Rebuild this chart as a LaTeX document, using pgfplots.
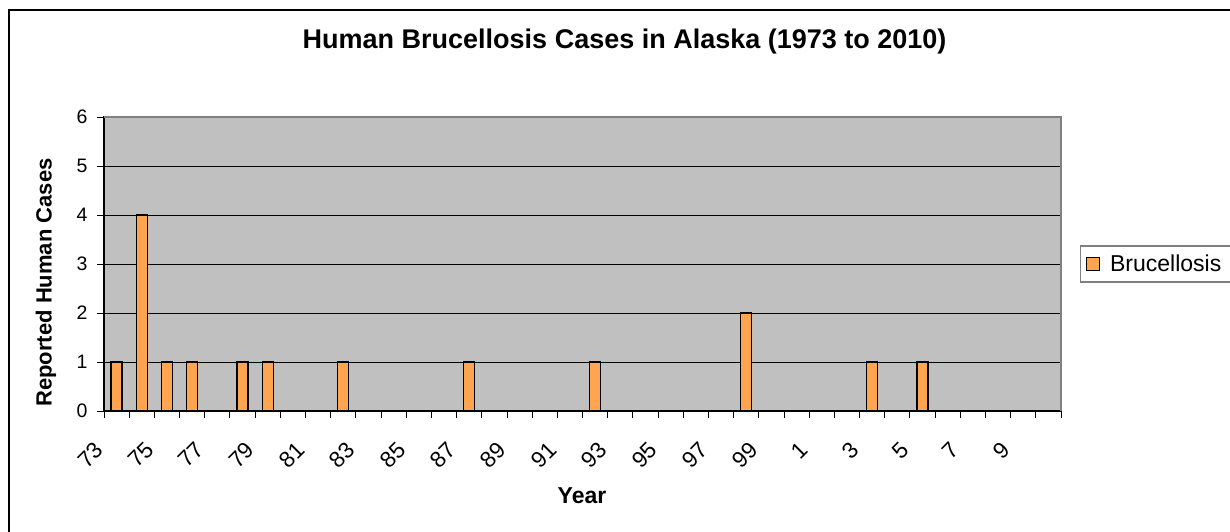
\documentclass[border=0pt]{standalone}
\usepackage{pgfplots}
\pgfplotsset{compat=1.18}
\usepackage{fontspec}
\setmainfont{Liberation Sans}
\definecolor{barfill}{HTML}{FFA54F}
\definecolor{plotbg}{HTML}{C0C0C0}
\definecolor{frame}{HTML}{808080}
\begin{document}
\begin{tikzpicture}[x=1pt,y=1pt]
\path[use as bounding box] (0,0) rectangle (1230,531);
\draw[line width=1.6pt] (9,-10) -- (9,521) -- (1250,521);
\begin{axis}[
  at={(104pt,120pt)}, anchor=south west,
  scale only axis, width=957pt, height=294pt,
  xmin=-0.5, xmax=37.5, ymin=0, ymax=6,
  axis background/.style={fill=plotbg},
  ytick={0,...,6},
  ymajorgrids, grid style={black, line width=0.8pt},
  xtick={-0.5,0.5,...,37.5},
  xticklabels={},
  extra x ticks={0,2,...,36},
  extra x tick labels={73,75,77,79,81,83,85,87,89,91,93,95,97,99,1,3,5,7,9},
  extra x tick style={major tick length=0pt},
  tick align=outside, tick pos=left, major tick length=7pt,
  tick style={black, line width=0.9pt},
  axis line style={black, line width=1.2pt},
  /pgf/number format/assume math mode=true,
  yticklabel style={font=\fontsize{19.5}{21}\selectfont, xshift=-6pt},
  xticklabel style={font=\fontsize{22.5}{24}\selectfont, xshift=-23pt, yshift=-29pt, rotate=45, anchor=north east, inner sep=0pt},
  title={Human Brucellosis Cases in Alaska (1973 to 2010)},
  title style={at={(axis description cs:0.544,1.238)}, anchor=center, font=\fontsize{27}{30}\selectfont\bfseries},
  xlabel={Year},
  xlabel style={at={(axis description cs:0.4995,-0.289)}, anchor=center, font=\fontsize{23}{26}\selectfont\bfseries},
  ylabel={Reported Human Cases},
  ylabel style={at={(axis description cs:-0.0606,0.437)}, anchor=center, font=\fontsize{22}{25}\selectfont\bfseries},
  legend style={at={(axis description cs:1.0199,0.5)}, anchor=west, draw=frame, line width=1.2pt, fill=white, font=\fontsize{23}{26}\selectfont, inner xsep=5pt, inner ysep=7pt,
    nodes={inner xsep=4pt}, /tikz/every odd column/.append style={column sep=6pt}},
  after end axis/.code={\draw[color=frame, line width=1.5pt] (rel axis cs:0,1) -- (rel axis cs:1,1) -- (rel axis cs:1,0);},
]
\addplot[ybar, bar width=11pt, fill=barfill, draw=black, line width=1.4pt,
  legend image code/.code={\draw[fill=barfill, draw=black, line width=1pt] (0pt,-6.5pt) rectangle (13.5pt,6.5pt);}]
  coordinates {(0,1) (1,4) (2,1) (3,1) (5,1) (6,1) (9,1) (14,1) (19,1) (25,2) (30,1) (32,1)};
\addlegendentry{Brucellosis}
\end{axis}
\end{tikzpicture}
\end{document}
